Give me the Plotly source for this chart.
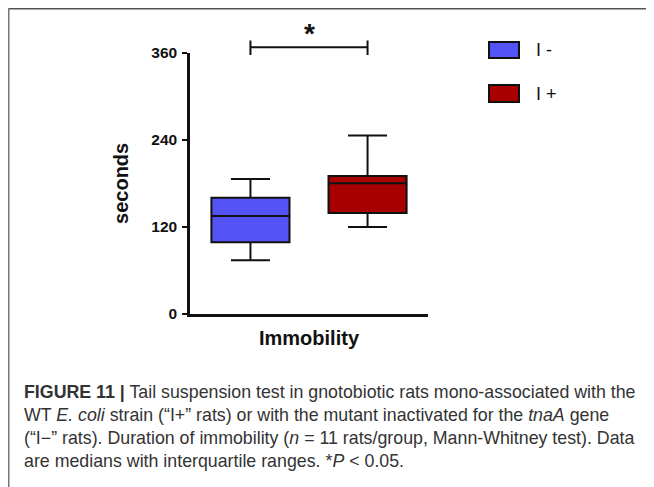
import plotly.graph_objects as go

# the page places the figure 8 px in from the top-left corner (body margin),
# so the figure is drawn that much smaller and all pixel positions are shifted
OFF = 8
W, H = 654 - OFF, 487 - OFF

# ---- data ----
CATEGORY = "Immobility"
GROUPS = ["I -", "I +"]
LOWER = [74, 120]
Q1 = [99, 139]
MEDIAN = [135, 180]
Q3 = [160, 190]
UPPER = [186, 246]
COLORS = ["#5252f5", "#a80000"]
Y_TICKS = [0, 120, 240, 360]
Y_TITLE = "seconds"
SIG_MARK = "*"
CAPTION_LINES = [
    "<b>FIGURE 11 |</b> Tail suspension test in gnotobiotic rats mono-associated with the",
    "WT <i>E. coli</i> strain (“I+” rats) or with the mutant inactivated for the <i>tnaA</i> gene",
    "(“I−” rats). Duration of immobility (<i>n</i> = 11 rats/group, Mann-Whitney test). Data",
    "are medians with interquartile ranges. *<i>P</i> < 0.05.",
]

def px(x):
    return (x - OFF) / W

def py(y):
    return 1 - (y - OFF) / H

# layout geometry (page pixels)
X0, X1 = 190, 428
Y_ZERO, Y_TOP = 314, 52.7
BOXGAP = 0.016
BOXGROUPGAP = 0.333

ydom = [py(Y_ZERO), py(Y_TOP)]
fig = go.Figure()
for i, g in enumerate(GROUPS):
    fig.add_trace(go.Box(
        x=[CATEGORY], q1=[Q1[i]], median=[MEDIAN[i]], q3=[Q3[i]],
        lowerfence=[LOWER[i]], upperfence=[UPPER[i]],
        name=g, fillcolor=COLORS[i], line=dict(color="#111111", width=2),
        whiskerwidth=0.5, boxpoints=False, showlegend=False, hoverinfo="skip",
    ))

chart_font = "Liberation Sans, Arial, sans-serif"
fig.update_layout(
    width=W, height=H, autosize=False,
    margin=dict(l=0, r=0, t=0, b=0, autoexpand=False),
    paper_bgcolor="white", plot_bgcolor="white",
    boxmode="group", boxgap=BOXGAP, boxgroupgap=BOXGROUPGAP,
    font=dict(family=chart_font, color="#111111"),
    xaxis=dict(
        domain=[px(X0), px(X1)], range=[-0.5, 0.5], type="category",
        automargin=False,
        showline=True, linecolor="#111111", linewidth=2.5,
        showgrid=False, zeroline=False, ticks="",
        tickfont=dict(size=20, weight="bold", color="#111111"),
        ticklabelstandoff=4,
    ),
    yaxis=dict(
        domain=ydom, range=[0, 360], tickvals=Y_TICKS,
        automargin=False,
        showline=True, linecolor="#111111", linewidth=2.5,
        showgrid=False, zeroline=False,
        ticks="outside", ticklen=5, tickwidth=2, tickcolor="#111111",
        tickfont=dict(size=15.5, weight="bold", color="#111111"),
        ticklabelstandoff=2,
        title=dict(text=Y_TITLE, font=dict(size=20, weight="bold", color="#111111"), standoff=18),
    ),
)

# significance bar between the two box centres
half = (1 - BOXGAP) / 4
xs = [-half, half]
sig_y = py(47.3)
fig.add_shape(type="line", xref="x", yref="paper", x0=xs[0], x1=xs[1], y0=sig_y, y1=sig_y,
              line=dict(color="#111111", width=2))
for xv in xs:
    fig.add_shape(type="line", xref="x", yref="paper", x0=xv, x1=xv, y0=py(40.5), y1=py(55),
                  line=dict(color="#111111", width=2))
fig.add_annotation(text="<b>" + SIG_MARK + "</b>", xref="x", yref="paper", x=0, y=py(33),
                   showarrow=False, font=dict(size=28, color="#111111", family=chart_font),
                   yanchor="middle", xanchor="center")

# legend (manual)
leg_rows = [(42, 58), (85, 102)]
for i, g in enumerate(GROUPS):
    t, b = leg_rows[i]
    fig.add_shape(type="rect", xref="paper", yref="paper", x0=px(489), x1=px(519), y0=py(b), y1=py(t),
                  fillcolor=COLORS[i], line=dict(color="#111111", width=2))
    fig.add_annotation(text=g, xref="paper", yref="paper", x=px(534), y=py((t + b) / 2),
                       xanchor="left", yanchor="middle", showarrow=False,
                       font=dict(size=18, color="#111111", family=chart_font))

# frame lines
fig.add_shape(type="line", xref="paper", yref="paper", x0=0, x1=1, y0=1, y1=1,
              line=dict(color="#555555", width=3))
fig.add_shape(type="line", xref="paper", yref="paper", x0=0, x1=0, y0=1, y1=0,
              line=dict(color="#777777", width=3))

# caption
cap_font = "Liberation Sans, Arial, sans-serif"
for i, line in enumerate(CAPTION_LINES):
    fig.add_annotation(text=line, xref="paper", yref="paper", x=px(22), y=py(392 + i * 23.0),
                       xanchor="left", yanchor="middle", showarrow=False, align="left",
                       font=dict(size=17.8, color="#333333", family=cap_font))

fig.write_html("out.html")
